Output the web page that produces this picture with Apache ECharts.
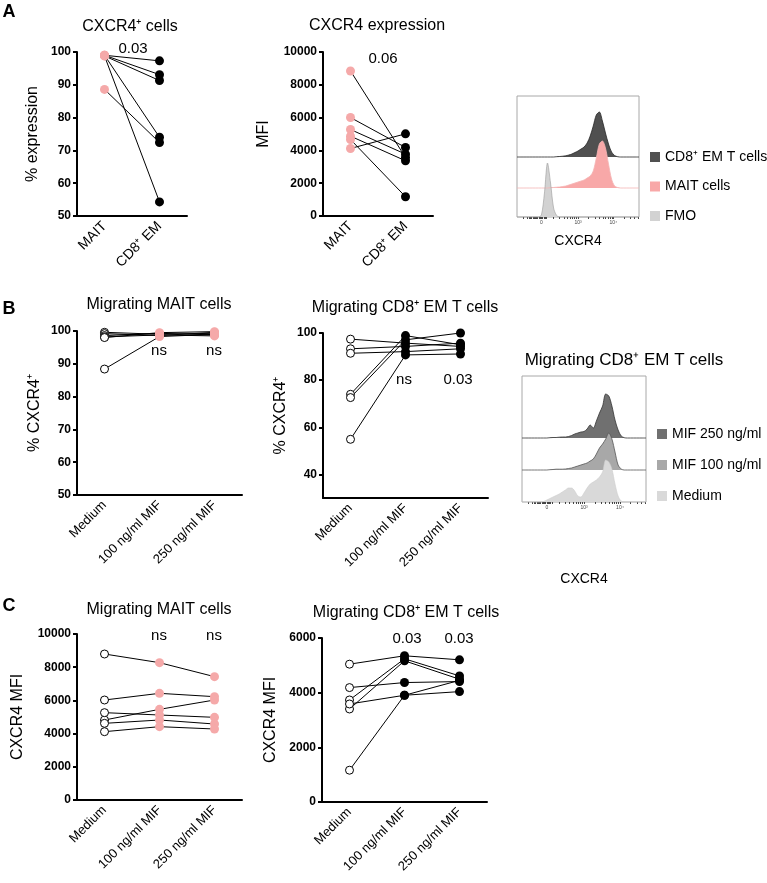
<!DOCTYPE html>
<html><head><meta charset="utf-8">
<script src="https://cdn.jsdelivr.net/npm/echarts@6/dist/echarts.min.js"></script>
<style>html,body{margin:0;padding:0;background:#fff}#c{width:767px;height:883px}</style>
</head><body><div id="c"></div>
<script>
// ---------------- data ----------------
const catsA = ['MAIT', 'CD8⁺ EM'];
const catsMig = ['Medium', '100 ng/ml MIF', '250 ng/ml MIF'];

// A: % CXCR4+ cells (paired per donor)
const a1MAIT = [99.0, 99.0, 98.8, 99.0, 88.6, 98.8];
const a1CD8  = [97.3, 93.1, 91.3, 74.0, 72.4, 54.3];
// A: CXCR4 MFI
const a2MAIT = [8844, 6004, 5274, 4868, 4665, 4118];
const a2CD8  = [3570, 4178, 3773, 3367, 1176, 5010];

// B: % CXCR4+ migrating MAIT cells
const b1Medium = [99.6, 99.2, 98.6, 98.2, 98.0, 88.4];
const b1Mif100 = [99.0, 98.6, 99.3, 98.8, 99.5, 98.3];
const b1Mif250 = [99.3, 99.6, 98.8, 98.5, 99.8, 99.0];
// B: % CXCR4+ migrating CD8+ EM T cells
const b2Medium = [97.4, 93.3, 91.4, 74.0, 72.6, 54.9];
const b2Mif100 = [95.7, 94.3, 92.1, 98.9, 97.1, 90.7];
const b2Mif250 = [94.3, 95.7, 93.3, 95.0, 100.0, 91.1];

// C: CXCR4 MFI migrating MAIT cells
const c1Medium = [8795, 6024, 4819, 5261, 4618, 4116];
const c1Mif100 = [8273, 6426, 5462, 5120, 4819, 4418];
const c1Mif250 = [7430, 6225, 6024, 4980, 4578, 4277];
// C: CXCR4 MFI migrating CD8+ EM T cells
const c2Medium = [5043, 4186, 3733, 3403, 3586, 1163];
const c2Mif100 = [5349, 4370, 5239, 5165, 3905, 3905];
const c2Mif250 = [5202, 4406, 4614, 4492, 4039, 4450];

// histograms (CXCR4 channel bins, relative counts)
const histBins = [0,2.5,5,7.5,10,12.5,15,17.5,20,22.5,25,27.5,30,32.5,35,37.5,40,42.5,45,47.5,50,52.5,55,57.5,60,62.5,65,67.5,70,72.5,75,77.5,80,82.5,85,87.5,90,92.5,95,97.5,100];
const histCD8  = [0,0,0,0,0,0,0,0,0,0,0,0,0,0.3,0.5,0.8,1.2,2,3,4.5,6,8,10,14,21,31,42,45,36,24,13,5,1.5,0.3,0,0,0,0,0,0,0];
const histMAIT = [0,0,0,0,0,0,0,0,0,0,0,0.3,0.5,0.8,1,1.5,2,3,4,5,6,7,8,10,12,17,30,44,47,40,24,9,2,0.5,0,0,0,0,0,0,0];
const histFMO  = [0,0,0,0,0,0,0,0,2,24,54,34,9,1.5,0,0,0,0,0,0,0,0,0,0,0,0,0,0,0,0,0,0,0,0,0,0,0,0,0,0,0];
const histMif250 = [0,0,0,0,0,0,0,0,0,0.3,0.5,0.5,0.8,1,1,1.5,2.5,4,5,6,6.5,9,13,10,17,25,32,44,42,32,18,8,2,0.3,0,0,0,0,0,0,0];
const histMif100 = [0,0,0,0,0,0,0,0,0,0.3,0.5,0.8,0.8,0.8,1,1.5,2,3,4,5,6,7,9,11,16,22,26,31,37,31,18,5,1,0,0,0,0,0,0,0,0];
const histMedium = [0,0,0,0,0,0,0,0.5,2,3.5,5,6.5,8,10,12,14,14,11,6,5,9,14,18,20,22,25,30,42,40,33,18,6,1,0,0,0,0,0,0,0,0];
const histTickVals = [5,8,10,11,12,13,14,15,16,17,18,19,20,21,22,23,24,29.7,34.8,38.5,41.3,43.6,45.5,47.2,48.7,50,58.7,63.8,67.5,70.3,72.6,74.5,76.2,77.7,79,87.7,92.8,96.5,99.3];
const histLabelVals = [20, 50, 79];
const histLabels = ['0', '10³', '10⁴'];

// ---------------- chart ----------------
const FONT = '"Liberation Sans", Arial, Helvetica, sans-serif';
const chart = echarts.init(document.getElementById('c'));

const grids = [
  {left:77,  top:52,  width:110, height:164},  // 0 A1
  {left:323, top:52,  width:110, height:164},  // 1 A2
  {left:77,  top:331, width:165, height:164},  // 2 B1
  {left:323, top:333, width:165, height:165},  // 3 B2
  {left:77,  top:634, width:165, height:166},  // 4 C1
  {left:322, top:638, width:165, height:164},  // 5 C2
  {left:517, top:96,  width:122, height:121, show:true, borderColor:'#a8a8a8', borderWidth:1}, // 6 hist A frame
  {left:517, top:97,  width:122, height:60},   // 7
  {left:517, top:128, width:122, height:60},   // 8
  {left:517, top:157, width:122, height:60},   // 9
  {left:522, top:376, width:124, height:126, show:true, borderColor:'#a8a8a8', borderWidth:1}, // 10 hist B frame
  {left:522, top:378, width:124, height:60},   // 11
  {left:522, top:410, width:124, height:60},   // 12
  {left:522, top:442, width:124, height:60}    // 13
].map(g => Object.assign({containLabel:false, outerBoundsMode:'none'}, g));

function catAxis(gi, cats, fs) {
  return {type:'category', gridIndex:gi, data:cats, boundaryGap:true,
    axisLine:{lineStyle:{color:'#000', width:2}},
    axisTick:{alignWithLabel:true, length:5, lineStyle:{color:'#000', width:2}},
    axisLabel:{rotate:45, interval:0, fontSize:fs, color:'#000', margin:8, fontFamily:FONT},
    splitLine:{show:false}};
}
function valAxis(gi, min, max, interval, name, gap, extra) {
  const ax = {type:'value', gridIndex:gi, min, max, interval,
    name, nameLocation:'middle', nameRotate:90, nameGap:gap,
    nameTextStyle:{fontSize:16, color:'#000', fontFamily:FONT},
    axisLine:{show:true, lineStyle:{color:'#000', width:2}},
    axisTick:{show:true, length:4, lineStyle:{color:'#000', width:2}},
    axisLabel:{fontSize:12, fontWeight:'bold', color:'#000', margin:6, fontFamily:FONT,
      formatter:v => String(v)},
    splitLine:{show:false}};
  if (extra) {
    Object.assign(ax.axisLabel, extra.axisLabel || {});
    Object.assign(ax.axisTick, extra.axisTick || {});
    if (extra.interval === null) delete ax.interval;
  }
  return ax;
}
function hiddenX(gi) { return {type:'value', gridIndex:gi, min:0, max:100, show:false}; }
function hiddenY(gi) { return {type:'value', gridIndex:gi, min:0, max:60, show:false}; }
function frameX(gi, gap) {
  return {type:'value', gridIndex:gi, min:0, max:100,
    axisLine:{show:false}, splitLine:{show:false},
    axisTick:{show:true, customValues:histTickVals, length:2, lineStyle:{color:'#444', width:1}},
    axisLabel:{customValues:histLabelVals, formatter:v => histLabels[histLabelVals.indexOf(v)], fontSize:5, color:'#444', margin:3},
    name:'CXCR4', nameLocation:'middle', nameGap:gap,
    nameTextStyle:{fontSize:14, color:'#000', fontFamily:FONT}};
}

const xAxis = [
  catAxis(0, catsA, 14), catAxis(1, catsA, 14),
  catAxis(2, catsMig, 13), catAxis(3, catsMig, 13),
  catAxis(4, catsMig, 13), catAxis(5, catsMig, 13),
  frameX(6, 17), hiddenX(7), hiddenX(8), hiddenX(9),
  frameX(10, 70), hiddenX(11), hiddenX(12), hiddenX(13)
];
const yAxis = [
  valAxis(0, 50, 100, 10, '% expression', 36),
  valAxis(1, 0, 10000, 2000, 'MFI', 51),
  valAxis(2, 50, 100, 10, '% CXCR4⁺', 34),
  valAxis(3, 30, 100, null, '% CXCR4⁺', 34, {interval:null, axisLabel:{customValues:[40,60,80,100]}, axisTick:{customValues:[40,60,80,100]}}),
  valAxis(4, 0, 10000, 2000, 'CXCR4 MFI', 51),
  valAxis(5, 0, 6000, 2000, 'CXCR4 MFI', 43),
  {type:'value', gridIndex:6, min:0, max:60, show:false},
  hiddenY(7), hiddenY(8), hiddenY(9),
  {type:'value', gridIndex:10, min:0, max:60, show:false},
  hiddenY(11), hiddenY(12), hiddenY(13)
];

const MARK = {
  pink:  {size:9, style:{color:'#F5A9A9', opacity:1}},
  black: {size:9, style:{color:'#000', opacity:1}},
  open:  {size:8, style:{color:'#fff', borderColor:'#000', borderWidth:1, opacity:1}}
};
function dotSeries(gi, groups, kinds) {
  const out = [];
  const n = groups[0].length;
  for (let s = 0; s < n; s++) {
    out.push({type:'line', name:'p'+gi+'s'+s, xAxisIndex:gi, yAxisIndex:gi,
      data:groups.map(g => g[s]), symbol:'none',
      lineStyle:{color:'#000', width:1}, z:2, silent:true});
  }
  groups.forEach((g, ci) => {
    const m = MARK[kinds[ci]];
    out.push({type:'scatter', name:'p'+gi+'c'+ci, xAxisIndex:gi, yAxisIndex:gi,
      data:g.map(v => [ci, v]), symbol:'circle', symbolSize:m.size,
      itemStyle:m.style, z:3, silent:true});
  });
  return out;
}
function histSeries(gi, name, vals, fill, stroke, lw) {
  return {type:'line', name, xAxisIndex:gi, yAxisIndex:gi,
    data:histBins.map((x, i) => [x, vals[i]]), smooth:0.3, symbol:'none', clip:false,
    lineStyle:{color:stroke, width:lw}, itemStyle:{color:fill},
    areaStyle:{color:fill, opacity:1}, silent:true};
}

const series = [].concat(
  dotSeries(0, [a1MAIT, a1CD8], ['pink', 'black']),
  dotSeries(1, [a2MAIT, a2CD8], ['pink', 'black']),
  dotSeries(2, [b1Medium, b1Mif100, b1Mif250], ['open', 'pink', 'pink']),
  dotSeries(3, [b2Medium, b2Mif100, b2Mif250], ['open', 'black', 'black']),
  dotSeries(4, [c1Medium, c1Mif100, c1Mif250], ['open', 'pink', 'pink']),
  dotSeries(5, [c2Medium, c2Mif100, c2Mif250], ['open', 'black', 'black']),
  [
    histSeries(7, 'CD8⁺ EM T cells', histCD8, '#505050', '#262626', 0.8),
    histSeries(8, 'MAIT cells', histMAIT, '#F8A8A8', '#F4B4B4', 0.8),
    histSeries(9, 'FMO', histFMO, '#D2D2D2', '#9a9a9a', 0.6),
    histSeries(11, 'MIF 250 ng/ml', histMif250, '#707070', '#333333', 0.8),
    histSeries(12, 'MIF 100 ng/ml', histMif100, '#A8A8A8', '#555555', 0.8),
    histSeries(13, 'Medium', histMedium, '#D9D9D9', '#cccccc', 0.6)
  ]
);

function txt(text, x, y, size, weight) {
  return {type:'text', x, y, silent:true, style:{text, x:0, y:0, fill:'#000',
    font:(weight || 'normal') + ' ' + size + 'px ' + FONT, textAlign:'center', textVerticalAlign:'middle'}};
}

const option = {
  animation:false,
  textStyle:{fontFamily:FONT},
  grid:grids, xAxis, yAxis, series,
  legend:[
    {left:645, top:145, orient:'vertical', icon:'rect', itemWidth:10, itemHeight:10, itemGap:15.5,
     selectedMode:false, itemStyle:{borderWidth:0},
     textStyle:{fontSize:14, color:'#000', fontFamily:FONT},
     data:['CD8⁺ EM T cells', 'MAIT cells', 'FMO']},
    {left:652, top:422, orient:'vertical', icon:'rect', itemWidth:10, itemHeight:10, itemGap:17,
     selectedMode:false, itemStyle:{borderWidth:0},
     textStyle:{fontSize:14, color:'#000', fontFamily:FONT},
     data:['MIF 250 ng/ml', 'MIF 100 ng/ml', 'Medium']}
  ],
  graphic:[
    txt('A', 9, 12, 18, 'bold'), txt('B', 9, 309, 18, 'bold'), txt('C', 9, 606, 18, 'bold'),
    txt('CXCR4⁺ cells', 130, 27, 16), txt('CXCR4 expression', 377, 26, 16),
    txt('Migrating MAIT cells', 159, 305, 16), txt('Migrating CD8⁺ EM T cells', 405, 308, 16),
    txt('Migrating CD8⁺ EM T cells', 624, 360, 17),
    txt('Migrating MAIT cells', 159, 610, 16), txt('Migrating CD8⁺ EM T cells', 406, 613, 16),
    txt('0.03', 133, 49, 15), txt('0.06', 383, 59, 15),
    txt('ns', 159, 351, 15), txt('ns', 214, 351, 15),
    txt('ns', 404, 380, 15), txt('0.03', 458, 380, 15),
    txt('ns', 159, 636, 15), txt('ns', 214, 636, 15),
    txt('0.03', 407, 639, 15), txt('0.03', 459, 639, 15)
  ]
};
chart.setOption(option);
</script>
</body></html>
